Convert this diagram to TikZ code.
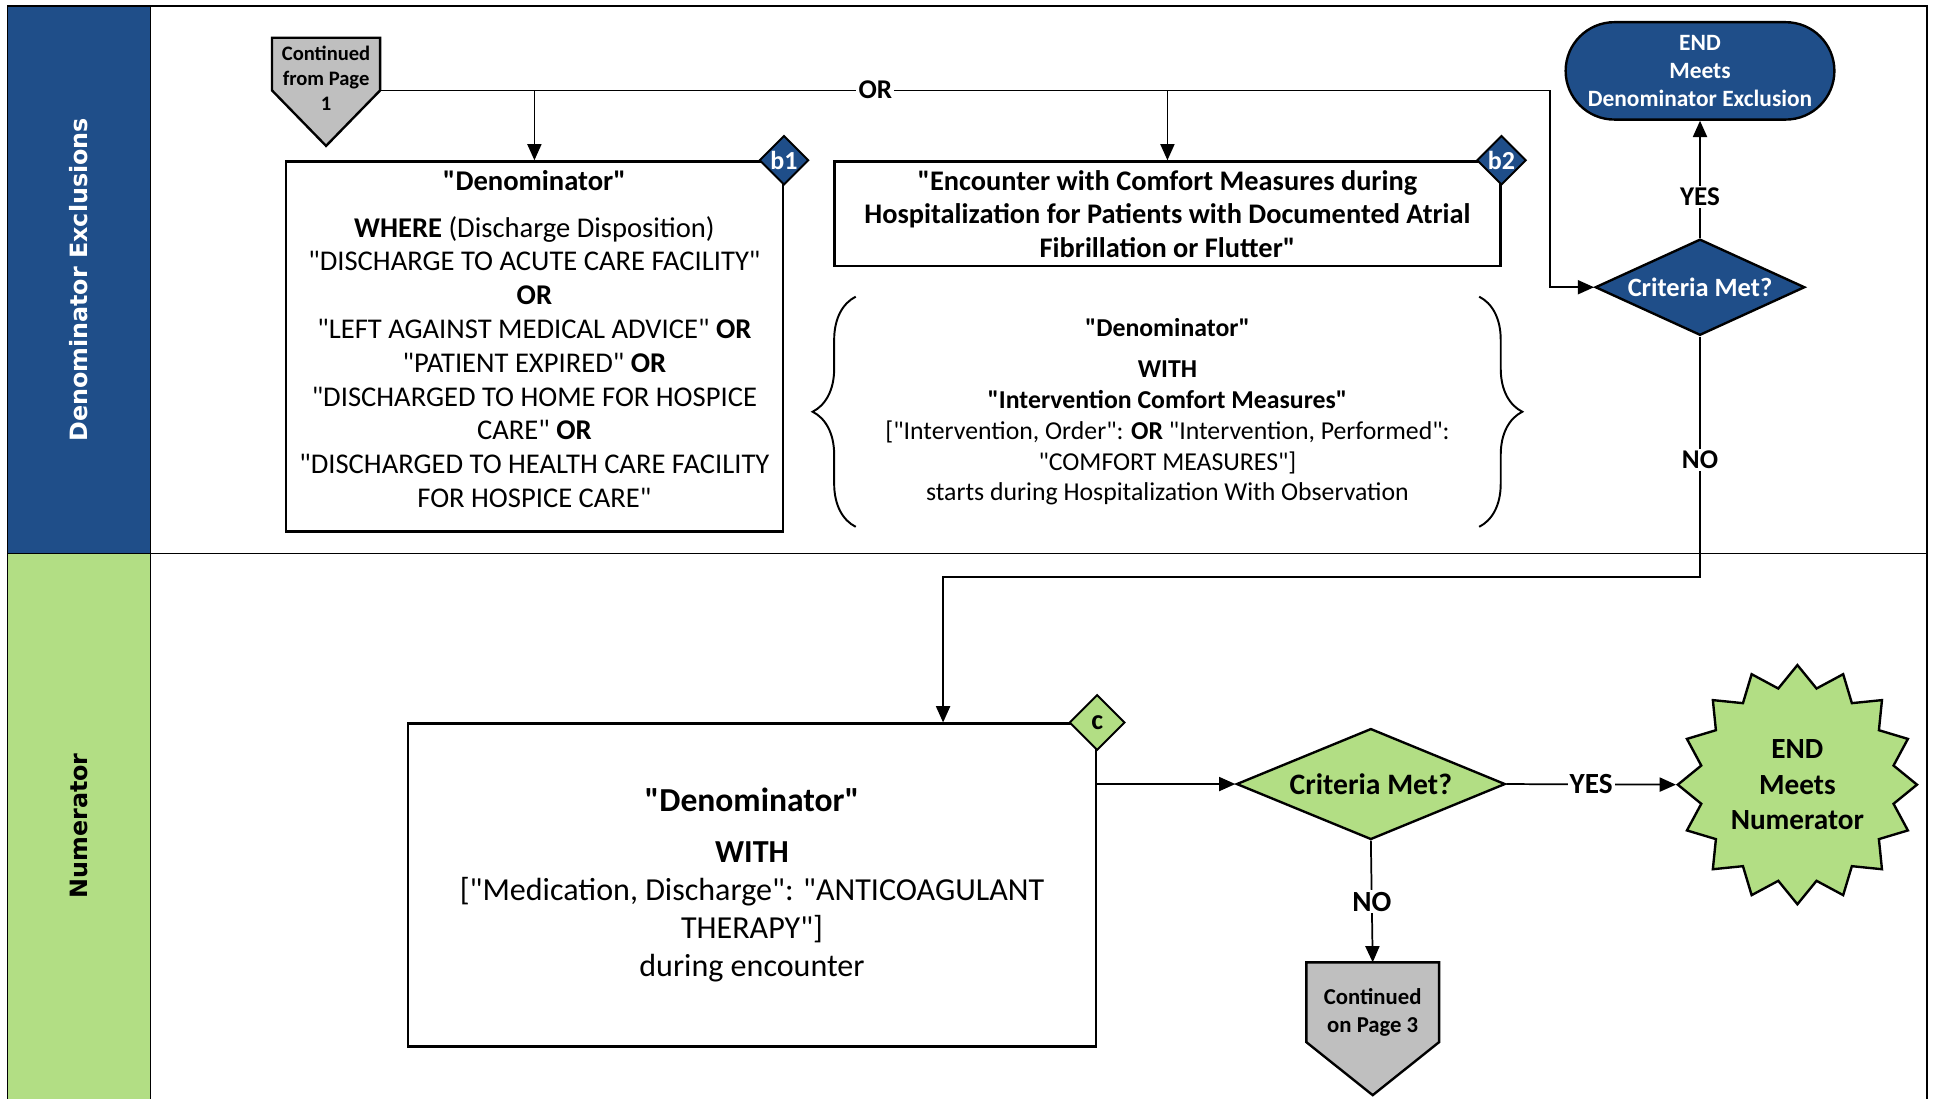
\documentclass[tikz,border=0pt]{standalone}
\usepackage{fontspec}
\setmainfont{Carlito}[Ligatures=TeXOff]
\newfontfamily\lanefont{DejaVu Sans}
\usetikzlibrary{arrows.meta,shapes.geometric,shapes.misc,decorations.pathreplacing}

\definecolor{exblue}{RGB}{31,78,137}
\definecolor{numgreen}{RGB}{178,222,132}
\definecolor{pagegray}{RGB}{191,191,191}
\newcommand{\unitpx}{0.02cm}

\begin{document}
\begin{tikzpicture}[x=0.02cm, y=-0.02cm,
    >={Triangle[length=7.5pt,width=6.5pt]},
    flow/.style={line width=0.8pt},
    lanetitle/.style={rotate=90, font=\lanefont\bfseries\fontsize{11}{13}\selectfont},
    textbox/.style={draw, line width=1.1pt, align=center, inner sep=0pt},
    pagebody/.style={inner sep=0pt},
    pagefill/.style={draw, fill=pagegray, line width=1.1pt},
    pagetext/.style={align=center, inner sep=0pt},
    decision/.style={diamond, draw, line width=1.1pt, inner sep=0pt},
    bluetag/.style={diamond, draw, line width=0.9pt, fill=exblue, text=white, minimum size=40*\unitpx, inner sep=0pt, font=\bfseries\fontsize{12}{14}\selectfont},
    greentag/.style={diamond, draw, line width=0.9pt, fill=numgreen, minimum size=45*\unitpx, inner sep=0pt, font=\bfseries\fontsize{13}{15}\selectfont},
    flowlabel/.style={fill=white, inner sep=1pt, font=\bfseries\fontsize{12.5}{15}\selectfont}]

    \useasboundingbox (0,0) rectangle (1568,891);

    \begin{scope}[line width=0.8pt]
        \fill [exblue] (6,5) rectangle (122,449);
        \fill [numgreen] (6,449) rectangle (122,895);
        \draw (6,895) -- (6,5) -- (1563,5) -- (1563,895);
        \draw (122,5) -- (122,895);
        \draw (6,449) -- (1563,449);
    \end{scope}
    \node [lanetitle, white] (exlane) at (64,227) {Denominator Exclusions};
    \node [lanetitle] (numlane) at (64,670) {Numerator};

    \node [pagebody, minimum width=87*\unitpx, minimum height=42*\unitpx] (cont1) at (264.5,52) {};
    \filldraw [pagefill] (cont1.north west) -- (cont1.north east) -- (cont1.south east)
        -- ([yshift=-45*\unitpx]cont1.south) -- (cont1.south west) -- cycle;
    \node [pagetext, font=\bfseries\fontsize{9.5}{11.7}\selectfont] (cont1txt) at (264.5,63.5) {Continued\\from Page\\1};

    \node [textbox, minimum width=403*\unitpx, minimum height=300*\unitpx,
        font=\fontsize{13.2}{15.6}\selectfont] (b1box) at (433.5,281) {%
        {\bfseries "Denominator"}\\[6pt]
        {\bfseries WHERE} (Discharge Disposition)\\
        "DISCHARGE TO ACUTE CARE FACILITY"\\
        {\bfseries OR}\\
        "LEFT AGAINST MEDICAL ADVICE" {\bfseries OR}\\
        "PATIENT EXPIRED" {\bfseries OR}\\
        "DISCHARGED TO HOME FOR HOSPICE\\
        CARE" {\bfseries OR}\\
        "DISCHARGED TO HEALTH CARE FACILITY\\
        FOR HOSPICE CARE"\rule[-7pt]{0pt}{7pt}};

    \node [textbox, minimum width=540*\unitpx, minimum height=85*\unitpx,
        font=\bfseries\fontsize{13.1}{15.4}\selectfont] (b2box) at (947,173.5) {%
        "Encounter with Comfort Measures during\\
        Hospitalization for Patients with Documented Atrial\\
        Fibrillation or Flutter"};

    \node [align=center, inner sep=0pt, minimum width=505*\unitpx, minimum height=186*\unitpx,
        font=\fontsize{11.9}{14.2}\selectfont] (comfort) at (947,334) {%
        {\bfseries "Denominator"}\\[5pt]
        {\bfseries WITH}\\
        {\bfseries "Intervention Comfort Measures"}\\
        {[}"Intervention, Order": {\bfseries OR} "Intervention, Performed":\\
        "COMFORT MEASURES"]\\
        starts during Hospitalization With Observation};
    \draw [line width=0.9pt, decorate, decoration={brace, amplitude=0.7cm}] (comfort.south west) -- (comfort.north west);
    \draw [line width=0.9pt, decorate, decoration={brace, amplitude=0.7cm}] (comfort.north east) -- (comfort.south east);

    \node [rounded rectangle, draw, line width=1.1pt, fill=exblue, text=white, align=center, inner sep=0pt,
        minimum width=218*\unitpx, minimum height=79*\unitpx,
        font=\bfseries\fontsize{10.8}{12.8}\selectfont] (endexcl) at (1379,57.5) {END\\Meets\\Denominator Exclusion};

    \node [decision, fill=exblue, text=white, aspect=2.2, minimum width=170*\unitpx, minimum height=78*\unitpx,
        font=\bfseries\fontsize{12.2}{14}\selectfont] (crit1) at (1379,233) {Criteria Met?};

    \node [textbox, minimum width=558*\unitpx, minimum height=262*\unitpx,
        font=\fontsize{14.8}{17.6}\selectfont] (numbox) at (610,718) {%
        {\bfseries\fontsize{15.5}{18}\selectfont "Denominator"}\\[6pt]
        {\bfseries WITH}\\
        {[}"Medication, Discharge": "ANTICOAGULANT\\
        THERAPY"]\\
        during encounter};

    \node [decision, fill=numgreen, aspect=2.4, minimum width=218*\unitpx, minimum height=90*\unitpx,
        font=\bfseries\fontsize{13.7}{16}\selectfont] (crit2) at (1112,636) {Criteria Met?};

    \node [star, star points=16, star point ratio=1.22, minimum size=194*\unitpx, draw, line width=1.1pt,
        fill=numgreen, inner sep=0pt, align=center,
        font=\bfseries\fontsize{13.5}{16.5}\selectfont] (endnum) at (1458,636.5) {END\\Meets\\Numerator};

    \node [pagebody, minimum width=107*\unitpx, minimum height=64*\unitpx] (cont3) at (1113.5,813) {};
    \filldraw [pagefill] (cont3.north west) -- (cont3.north east) -- (cont3.south east)
        -- ([yshift=-43*\unitpx]cont3.south) -- (cont3.south west) -- cycle;
    \node [pagetext, font=\bfseries\fontsize{10.5}{13}\selectfont] (cont3txt) at (1113.5,821.5) {Continued\\on Page 3};

    \draw [flow,->] (cont1.south east) -| ([xshift=-36*\unitpx]crit1.west) -- (crit1.west);
    \draw [flow,->] (cont1.south east -| b1box.north) -- (b1box.north);
    \draw [flow,->] (cont1.south east -| b2box.north) -- (b2box.north);
    \node [flowlabel] (orlbl) at (710,73) {OR};

    \draw [flow,->] (crit1.north) -- (endexcl.south) node [flowlabel, pos=0.35] (yes1) {YES};
    \draw [flow,->] (crit1.south) |- ([xshift=155*\unitpx, yshift=118*\unitpx]numbox.north)
        -- ([xshift=155*\unitpx]numbox.north);
    \node [flowlabel] (no1) at (1379,373) {NO};

    \draw [flow,->] (crit2.west -| numbox.east) -- (crit2.west);
    \draw [flow,->] (crit2.east) -- (endnum.west) node [flowlabel, midway, font=\bfseries\fontsize{13.5}{16}\selectfont] (yes2) {YES};
    \draw [flow,->] (crit2.south) -- (cont3.north) node [flowlabel, midway, font=\bfseries\fontsize{13.5}{16}\selectfont] (no2) {NO};

    \foreach \tagname/\boxname in {b1/b1box, b2/b2box}{%
        \node [bluetag] (\tagname) at (\boxname.north east) {\tagname};
    }
    \node [greentag] (ctag) at (numbox.north east) {c};

\end{tikzpicture}
\end{document}
